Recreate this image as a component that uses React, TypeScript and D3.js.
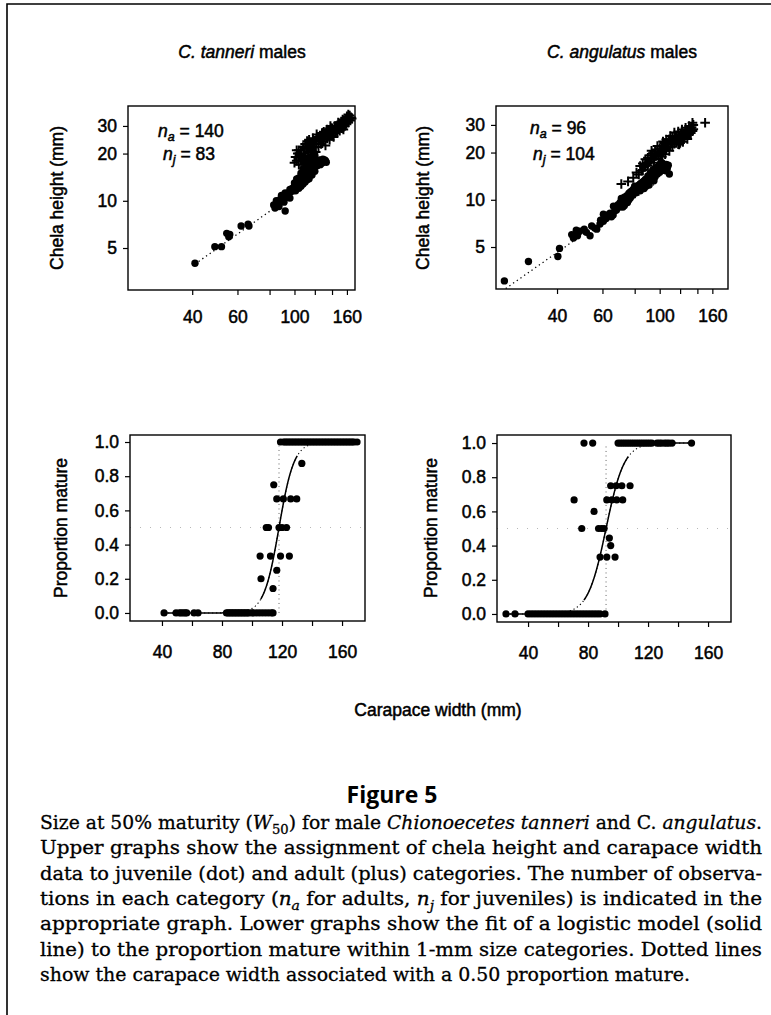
import React, { useEffect, useRef } from 'react'
import * as d3 from 'd3'

// carapace width (mm), chela height (mm)
const tanneriAdults = [
  [100, 17.5], [101, 19], [102, 18], [103, 20], [104, 17], [105, 19.5], [106, 21], [107, 18.5],
  [108, 22], [109, 20], [110, 23], [110, 19], [111, 21.5], [112, 24], [113, 20.5], [114, 22.5],
  [115, 19.5], [116, 23.5], [117, 21], [118, 25], [119, 22], [120, 24], [121, 20.5], [122, 23],
  [123, 25.5], [124, 22], [125, 24.5], [126, 26], [127, 23], [128, 25], [129, 27], [130, 24],
  [131, 26], [132, 22.5], [133, 27.5], [134, 25], [135, 26.5], [136, 28], [137, 24.5], [138, 27],
  [139, 29], [140, 26], [141, 28], [142, 25.5], [143, 29.5], [144, 27], [145, 28.5], [146, 30],
  [147, 27.5], [148, 29], [149, 31], [150, 28], [151, 30], [152, 32], [153, 29], [154, 31],
  [155, 28.5], [156, 32.5], [157, 30], [158, 33], [159, 31], [160, 32], [161, 34], [162, 31.5],
  [163, 33], [164, 35], [165, 32.5], [166, 34], [167, 33.5], [104, 21], [108, 19], [112, 22],
  [116, 21], [120, 22], [124, 25], [128, 27], [132, 27], [136, 26], [140, 29], [144, 30],
  [148, 31.5], [152, 30.5], [156, 31], [160, 34.5], [118, 23], [122, 26.5], [126, 24], [130, 27.5],
  [134, 28.5], [138, 30], [142, 27], [146, 28], [150, 31], [154, 33], [158, 32], [162, 35.5],
  [114, 24.5], [106, 18], [102, 21],
]

const tanneriJuveniles = [
  [41, 4.0], [49, 5.1], [52, 5.1], [54.5, 6.2], [55.5, 5.9], [56, 6.1], [62, 6.9], [66, 7.1],
  [66.5, 6.9], [83, 9.4], [84, 9.0], [85, 10.0], [86, 9.5], [88, 10.2], [90, 10.0], [91, 9.8],
  [92, 8.6], [93, 10.6], [95, 11.0], [96, 10.4], [97, 11.4], [99, 11.8], [100, 12.5], [101, 11.6],
  [102, 12.2], [103, 12.8], [104, 12.0], [105, 13.0], [106, 12.4], [107, 13.4], [108, 12.8],
  [109, 14.0], [110, 13.2], [110, 15.0], [111, 14.2], [112, 13.6], [112, 16.0], [113, 14.8],
  [114, 15.5], [114, 13.8], [115, 16.4], [116, 15.0], [117, 17.0], [117, 14.6], [118, 16.0],
  [119, 17.4], [120, 15.4], [120, 17.8], [121, 16.6], [122, 18.0], [123, 16.8], [124, 17.6],
  [125, 18.2], [126, 17.0], [127, 18.0], [128, 17.4], [129, 18.4], [130, 17.8], [131, 18.2],
  [132, 18.0], [133, 17.6], [104, 14], [106, 15], [108, 16], [110, 17.5], [112, 18.5], [102, 13.8],
  [114, 18], [116, 19], [100, 13], [98, 12], [96, 11.8], [94, 10.5], [89, 10.8], [87, 9.2],
  [92, 11.2], [118, 18.5], [120, 19.5],
]

const angulatusAdults = [
  [71, 12.6], [75.4, 13.1], [79, 13.8], [81.3, 14.9], [84, 16.4], [85, 15.3], [86, 17.0], [87, 16.2],
  [88, 18.1], [89, 17.0], [90, 18.5], [91, 17.4], [92, 19.2], [93, 18.0], [94, 19.8], [95, 18.4],
  [96, 20.2], [97, 19.0], [98, 20.8], [99, 19.4], [100, 21.2], [101, 19.8], [102, 22.0], [103, 20.4],
  [104, 21.4], [105, 22.6], [106, 20.8], [107, 23.0], [108, 21.6], [109, 24.3], [110, 22.4],
  [111, 23.4], [112, 21.8], [113, 24.0], [114, 22.8], [115, 25.0], [116, 23.6], [117, 24.6],
  [118, 22.6], [119, 25.5], [120, 24.2], [121, 26.0], [122, 24.8], [123, 23.4], [124, 26.4],
  [125, 25.2], [126, 27.0], [127, 25.8], [128, 24.4], [129, 27.4], [130, 26.2], [131, 28.0],
  [132, 26.6], [133, 29.0], [134, 27.4], [135, 30.0], [135, 28.2], [134, 31], [150, 31.0],
  [88, 16.8], [92, 17.6], [96, 19.2], [100, 20.0], [104, 23], [108, 22.8], [112, 25.0], [116, 25.4],
  [120, 23.0], [124, 25.0], [128, 26.8], [132, 28.6], [93, 20.5], [98, 22], [103, 23.5], [106, 24.2],
  [110, 25.5], [114, 26.8], [118, 27.2], [122, 28.0], [126, 28.8], [130, 29.5], [119, 22.5],
  [83, 14.5], [86, 15.5], [90, 16.5], [95, 17.2], [99, 18.2], [102, 18.8], [105, 19.5], [109, 20.5],
]

const angulatusJuveniles = [
  [25, 3.04], [31, 4.04], [40.3, 4.35], [40.9, 4.9], [45.6, 6.0], [46.3, 5.7], [49, 6.3], [52, 6.2],
  [53.7, 5.9], [54.5, 6.8], [57, 6.5], [58.7, 7.0], [60.5, 7.3], [60.5, 8.1], [62, 7.6], [64.2, 8.2],
  [65, 7.8], [66.2, 9.1], [67, 8.5], [68.2, 8.9], [69, 9.3], [70.3, 9.6], [70.2, 9.4], [71, 10.2],
  [72, 9.0], [73, 10.4], [74.4, 10.1], [74.6, 10.6], [75, 9.6], [76, 11.0], [77, 10.3], [78, 11.4],
  [79.1, 11.7], [79, 10.8], [80, 12.2], [81, 11.1], [82, 11.7], [83, 12.4], [84, 11.4], [85, 12.8],
  [86, 12.0], [87, 13.2], [88.5, 12.2], [89, 13.6], [90, 12.8], [91, 14.0], [92, 13.2], [93, 14.4],
  [94, 13.6], [95, 14.8], [96, 14.0], [97, 15.2], [98, 14.6], [99.6, 16.4], [100, 15.0], [101, 15.8],
  [102, 16.0], [103, 15.4], [104, 16.2], [105.7, 15.3], [107, 15.8], [109, 14.6], [108, 16.6],
  [106, 16.8], [88, 13.5], [86, 13.0], [84, 12.6], [82, 12.2], [80, 11.5], [78, 10.6], [76, 10.0],
  [74, 9.8], [72, 9.5], [70, 9.0], [68, 8.6], [66, 8.0], [63, 8.0], [61, 7.8], [59, 7.4], [56, 6.6],
  [51, 6.5], [48, 5.9], [47.5, 6.4], [92, 14.8], [94, 15.5], [96, 15.8], [98, 16.2], [90, 14.2],
  [100, 16.8], [102, 17.2], [95, 13.2], [91, 12.4], [87, 11.8], [83, 11.6], [77, 11.2], [73, 9.2],
]

// juvenile regression (dotted) end points
const tanneriJuvFit = [[41, 3.95], [104, 11.6]]
const angulatusJuvFit = [[25.3, 2.72], [95, 12.5]]

// carapace width (mm), proportion mature
const tanneriProp = [
  [41.4, 0], [49.4, 0], [51.6, 0], [52.8, 0], [54.2, 0], [55.5, 0], [56.5, 0], [61.4, 0], [64, 0],
  [83, 0], [84, 0], [85, 0], [86, 0], [87, 0], [88, 0], [89, 0], [90, 0], [91, 0], [92, 0], [93, 0],
  [94, 0], [95, 0], [96, 0], [97, 0], [98, 0], [100, 0], [101, 0], [103, 0], [105, 0], [107, 0],
  [109, 0], [111, 0], [113, 0], [114, 0],
  [114, 0.143], [106, 0.2], [116.5, 0.25],
  [105.4, 0.333], [112.3, 0.333], [119, 0.333], [124.9, 0.333],
  [109.5, 0.5], [111, 0.5], [118, 0.5], [120, 0.5], [123, 0.5],
  [116.5, 0.667], [120.9, 0.667], [125.8, 0.667], [129.8, 0.667],
  [114.5, 0.75], [133.2, 0.875],
  [119, 1], [121, 1], [122, 1], [123, 1], [124, 1], [125, 1], [126, 1], [127, 1], [128, 1], [129, 1],
  [130, 1], [131, 1], [132, 1], [133, 1], [134, 1], [135, 1], [136, 1], [137, 1], [138, 1], [139, 1],
  [140, 1], [141, 1], [142, 1], [143, 1], [144, 1], [145, 1], [146, 1], [147, 1], [148, 1], [149, 1],
  [150, 1], [151, 1], [152, 1], [153, 1], [154, 1], [155, 1], [156, 1], [157, 1], [158, 1], [159, 1],
  [160, 1], [161, 1], [162, 1], [163, 1], [164, 1], [165, 1], [166, 1], [167, 1], [168, 1], [170, 1],
]

const angulatusProp = [
  [25.3, 0], [31.3, 0], [40, 0], [42, 0], [44, 0], [46, 0], [48, 0], [50, 0], [52, 0], [54, 0],
  [56, 0], [58, 0], [60, 0], [62, 0], [64, 0], [66, 0], [68, 0], [70, 0], [72, 0], [74, 0], [76, 0],
  [78, 0], [80, 0], [82, 0], [84, 0], [86, 0], [88, 0], [91.3, 0],
  [88, 0.333], [92.5, 0.333], [98, 0.333], [95.1, 0.4], [94.2, 0.444],
  [75.8, 0.5], [87, 0.5], [89, 0.5], [90.7, 0.5], [84, 0.6],
  [70.7, 0.667], [92.5, 0.667], [95.8, 0.667], [99.1, 0.667], [103.1, 0.667],
  [95.1, 0.75], [98.7, 0.75], [102.5, 0.75], [108, 0.75],
  [77.3, 1], [83.1, 1], [100, 1], [101.5, 1], [103, 1], [104.5, 1], [106, 1], [107.5, 1], [109, 1],
  [110.5, 1], [112, 1], [113.5, 1], [115, 1], [116.5, 1], [118, 1], [119.5, 1], [121, 1], [122.5, 1],
  [126, 1], [127.5, 1], [129, 1], [131, 1], [132.5, 1], [134, 1], [136, 1], [149, 1],
]

// logistic fits: W50 (mm) and slope
const tanneriFit = { w50: 118, k: 0.2 }
const angulatusFit = { w50: 92, k: 0.165 }

const sizeTicks = [40, 60, 80, 100, 120, 140, 160]
const sizeLabels = [40, 60, 100, 160]
const propSizeLabels = [40, 80, 120, 160]
const chelaTicks = [5, 10, 20, 30]
const propTicks = [0, 0.2, 0.4, 0.6, 0.8, 1]

const SANS = "'Liberation Sans', Arial, Helvetica, sans-serif"
const SERIF = "'DejaVu Serif', 'Liberation Serif', serif"
const FS = 17.5

const captionLines = [
  [['Size at 50% maturity (', ''], ['W', 'i'], ['50', 'sub'], [') for male ', ''], ['Chionoecetes tanneri', 'i'], [' and C. ', ''], ['angulatus', 'i'], ['.', '']],
  [['Upper graphs show the assignment of chela height and carapace width', '']],
  [['data to juvenile (dot) and adult (plus) categories. The number of observa-', '']],
  [['tions in each category (', ''], ['n', 'i'], ['a', 'isub'], [' for adults, ', ''], ['n', 'i'], ['j', 'isub'], [' for juveniles) is indicated in the', '']],
  [['appropriate graph. Lower graphs show the fit of a logistic model (solid', '']],
  [['line) to the proportion mature within 1-mm size categories. Dotted lines', '']],
  [['show the carapace width associated with a 0.50 proportion mature.', '']],
]

const styleAxis = (g) => {
  g.select('.domain').remove()
  g.attr('font-size', FS).attr('font-family', SANS)
  g.selectAll('line').attr('stroke', '#000').attr('stroke-width', 1.2)
  g.selectAll('text').attr('fill', '#000').attr('stroke', '#000').attr('stroke-width', 0.5)
}

function drawScatter(root, box, xDom, yDom, adults, juveniles, fit) {
  const x = d3.scaleLog().domain(xDom).range([box.x0, box.x1])
  const y = d3.scaleLog().domain(yDom).range([box.y1, box.y0])
  const g = root.append('g')

  g.append('g')
    .attr('transform', `translate(0,${box.y1})`)
    .call(d3.axisBottom(x).tickValues(sizeTicks).tickFormat((d) => (sizeLabels.includes(d) ? d : '')).tickSize(5).tickPadding(16))
    .call(styleAxis)
  g.append('g')
    .attr('transform', `translate(${box.x0},0)`)
    .call(d3.axisLeft(y).tickValues(chelaTicks).tickFormat(d3.format('d')).tickSize(5).tickPadding(6))
    .call(styleAxis)

  g.append('path')
    .attr('d', d3.line().x((d) => x(d[0])).y((d) => y(d[1]))(fit))
    .attr('fill', 'none')
    .attr('stroke', '#000')
    .attr('stroke-width', 1.3)
    .attr('stroke-dasharray', '1.3,3.2')

  g.append('g')
    .selectAll('circle')
    .data(juveniles)
    .join('circle')
    .attr('cx', (d) => x(d[0]))
    .attr('cy', (d) => y(d[1]))
    .attr('r', 3.7)
    .attr('fill', '#000')

  g.append('g')
    .selectAll('path')
    .data(adults)
    .join('path')
    .attr('transform', (d) => `translate(${x(d[0])},${y(d[1])})`)
    .attr('d', 'M-4.8,0H4.8M0,-4.8V4.8')
    .attr('stroke', '#000')
    .attr('stroke-width', 2)

  g.append('rect')
    .attr('x', box.x0)
    .attr('y', box.y0)
    .attr('width', box.x1 - box.x0)
    .attr('height', box.y1 - box.y0)
    .attr('fill', 'none')
    .attr('stroke', '#000')
    .attr('stroke-width', 1.4)
}

function drawProportion(root, box, xDom, yDom, pts, fit) {
  const x = d3.scaleLinear().domain(xDom).range([box.x0, box.x1])
  const y = d3.scaleLinear().domain(yDom).range([box.y1, box.y0])
  const g = root.append('g')

  g.append('g')
    .attr('transform', `translate(0,${box.y1})`)
    .call(d3.axisBottom(x).tickValues(sizeTicks).tickFormat((d) => (propSizeLabels.includes(d) ? d : '')).tickSize(5).tickPadding(20))
    .call(styleAxis)
  g.append('g')
    .attr('transform', `translate(${box.x0},0)`)
    .call(d3.axisLeft(y).tickValues(propTicks).tickFormat(d3.format('.1f')).tickSize(5).tickPadding(6))
    .call(styleAxis)

  // dotted reference lines at W50 and 0.5
  g.append('line')
    .attr('x1', x(fit.w50)).attr('x2', x(fit.w50))
    .attr('y1', y(0)).attr('y2', y(1))
    .attr('stroke', '#000').attr('stroke-width', 1).attr('stroke-dasharray', '1,3.5').attr('opacity', 0.6)
  g.append('line')
    .attr('x1', box.x0).attr('x2', box.x1)
    .attr('y1', y(0.5)).attr('y2', y(0.5))
    .attr('stroke', '#000').attr('stroke-width', 0.8).attr('stroke-dasharray', '1,9').attr('opacity', 0.35)

  const logistic = (w) => 1 / (1 + Math.exp(-fit.k * (w - fit.w50)))
  const [lo, hi] = d3.extent(pts, (d) => d[0])
  const curve = d3.range(lo, hi + 0.25, 0.25).map((w) => [w, logistic(w)])
  const line = d3.line().x((d) => x(d[0])).y((d) => y(d[1]))

  g.append('path')
    .attr('d', line(curve))
    .attr('fill', 'none')
    .attr('stroke', '#000')
    .attr('stroke-width', 1.1)
    .attr('stroke-dasharray', '1.2,2.8')
  g.append('path')
    .attr('d', line.defined((d) => d[1] < 0.004 || (d[1] > 0.08 && d[1] < 0.92) || d[1] > 0.997)(curve))
    .attr('fill', 'none')
    .attr('stroke', '#000')
    .attr('stroke-width', 1.5)

  g.append('g')
    .selectAll('circle')
    .data(pts)
    .join('circle')
    .attr('cx', (d) => x(d[0]))
    .attr('cy', (d) => y(d[1]))
    .attr('r', 3.6)
    .attr('fill', '#000')

  g.append('rect')
    .attr('x', box.x0)
    .attr('y', box.y0)
    .attr('width', box.x1 - box.x0)
    .attr('height', box.y1 - box.y0)
    .attr('fill', 'none')
    .attr('stroke', '#000')
    .attr('stroke-width', 1.4)
}

const Segments = ({ segs, size }) => {
  let shift = 0
  const out = []
  segs.forEach(([t, k], i) => {
    const sub = k === 'sub' || k === 'isub'
    const target = sub ? size * 0.3 : 0
    const dy = target - shift
    shift = target
    out.push(
      <tspan
        key={i}
        dy={dy}
        fontStyle={k === 'i' || k === 'isub' ? 'italic' : 'normal'}
        fontSize={sub ? size * 0.7 : size}
      >
        {t}
      </tspan>
    )
  })
  return <>{out}</>
}

const NLabel = ({ x, y, sub, value }) => (
  <text x={x} y={y} fontFamily={SANS} fontSize={FS} stroke="#000" strokeWidth={0.5}>
    <tspan fontStyle="italic">n</tspan>
    <tspan fontStyle="italic" fontSize={12.5} dy={4}>{sub}</tspan>
    <tspan dy={-4}>{` = ${value}`}</tspan>
  </text>
)

const App = () => {
  const chartRef = useRef(null)

  useEffect(() => {
    const root = d3.select(chartRef.current)
    root.selectAll('*').remove()
    drawScatter(root, { x0: 128, x1: 355, y0: 106, y1: 290 }, [22.5, 172], [2.7, 40.2], tanneriAdults, tanneriJuveniles, tanneriJuvFit)
    drawScatter(root, { x0: 496, x1: 728, y0: 106, y1: 289 }, [23.2, 184], [2.7, 39.6], angulatusAdults, angulatusJuveniles, angulatusJuvFit)
    drawProportion(root, { x0: 130, x1: 365, y0: 435, y1: 621 }, [18.7, 175.3], [-0.047, 1.041], tanneriProp, tanneriFit)
    drawProportion(root, { x0: 497, x1: 731, y0: 435, y1: 622 }, [19.3, 175.3], [-0.047, 1.047], angulatusProp, angulatusFit)
  }, [])

  const lineTop = 829
  const lineGap = 25.3

  return (
    <svg
      width={771}
      height={1015}
      style={{ position: 'absolute', left: 0, top: 0, background: '#fff' }}
    >
      <rect width={771} height={1015} fill="#fff" />
      <path d="M7,1015V4H771" fill="none" stroke="#000" strokeWidth={1.6} />

      <g fontFamily={SANS} fontSize={FS} fill="#000" stroke="#000" strokeWidth={0.5} textAnchor="middle">
        <text x={242} y={58}>
          <tspan fontStyle="italic">C. tanneri</tspan> males
        </text>
        <text x={622} y={58}>
          <tspan fontStyle="italic">C. angulatus</tspan> males
        </text>
        <text transform="translate(63,198) rotate(-90)">Chela height (mm)</text>
        <text transform="translate(429,198) rotate(-90)">Chela height (mm)</text>
        <text transform="translate(67,528) rotate(-90)">Proportion mature</text>
        <text transform="translate(437,528) rotate(-90)">Proportion mature</text>
        <text x={438} y={716}>Carapace width (mm)</text>
      </g>

      <NLabel x={158} y={137} sub="a" value={140} />
      <NLabel x={163} y={160} sub="j" value={83} />
      <NLabel x={530} y={134} sub="a" value={96} />
      <NLabel x={533} y={160} sub="j" value={104} />

      <g ref={chartRef} />

      <text x={392} y={803} textAnchor="middle" fontFamily="'Open Sans', 'Noto Sans', sans-serif" fontWeight={700} fontSize={23}>
        Figure 5
      </text>
      <g fontFamily={SERIF} fill="#000" stroke="#000" strokeWidth={0.3}>
        {captionLines.map((segs, i) => (
          <text
            key={i}
            x={40}
            y={lineTop + i * lineGap}
            textLength={i === captionLines.length - 1 ? 650 : 722}
            lengthAdjust="spacingAndGlyphs"
            fontSize={18}
          >
            <Segments segs={segs} size={18} />
          </text>
        ))}
      </g>
    </svg>
  )
}

export default App
